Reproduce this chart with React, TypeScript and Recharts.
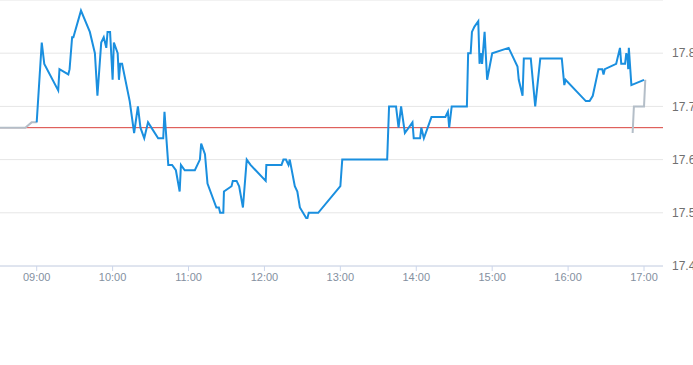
import { LineChart, Line, XAxis, YAxis, CartesianGrid, ReferenceLine } from "recharts";

// intraday price, times as HH:MM (HH:MM:SS where ticks are close together)
const mainTimes = [
  "09:00", "09:04", "09:06", "09:17", "09:18", "09:25", "09:26", "09:28", "09:29", "09:35",
  "09:42", "09:46", "09:48", "09:51", "09:53", "09:55", "09:56", "09:58", "10:00", "10:01",
  "10:04", "10:05", "10:06", "10:07:30", "10:13:30", "10:17", "10:20", "10:22", "10:25", "10:28",
  "10:36", "10:40", "10:41", "10:44", "10:47", "10:50", "10:53", "10:54", "10:57", "11:05",
  "11:09", "11:10", "11:13", "11:15", "11:22", "11:24", "11:25", "11:27:30", "11:28", "11:34",
  "11:35", "11:38", "11:40", "11:43", "11:46", "11:49", "12:01", "12:01:30", "12:13:30", "12:15",
  "12:17", "12:19", "12:20", "12:24", "12:26", "12:28", "12:33", "12:34", "12:35", "12:42:30",
  "13:00", "13:01:30", "13:37", "13:38:30", "13:44", "13:46", "13:48", "13:51", "13:57", "13:58",
  "14:03", "14:04", "14:06", "14:12", "14:23", "14:25", "14:26", "14:28", "14:40", "14:41",
  "14:43", "14:44", "14:46", "14:49", "14:50", "14:51", "14:52", "14:54", "14:56", "15:00",
  "15:13", "15:20", "15:21", "15:24", "15:25", "15:30:30", "15:34", "15:38", "15:55", "15:57",
  "15:58", "16:14", "16:17", "16:19:30", "16:24", "16:27", "16:28", "16:29", "16:38", "16:41",
  "16:42", "16:45", "16:46", "16:47", "16:47:30", "16:48", "16:50", "17:00",
];
const mainPrices = [
  17.67, 17.82, 17.78, 17.73, 17.77, 17.76, 17.77, 17.83, 17.83, 17.88,
  17.84, 17.80, 17.72, 17.82, 17.83, 17.81, 17.84, 17.84, 17.75, 17.82,
  17.80, 17.75, 17.78, 17.78, 17.71, 17.65, 17.70, 17.66, 17.64, 17.67,
  17.64, 17.64, 17.69, 17.59, 17.59, 17.58, 17.54, 17.59, 17.58, 17.58,
  17.60, 17.63, 17.61, 17.555, 17.51, 17.51, 17.50, 17.50, 17.54, 17.55,
  17.56, 17.56, 17.55, 17.51, 17.60, 17.59, 17.56, 17.59, 17.59, 17.60,
  17.60, 17.59, 17.60, 17.55, 17.54, 17.51, 17.49, 17.49, 17.50, 17.50,
  17.55, 17.60, 17.60, 17.70, 17.70, 17.66, 17.70, 17.65, 17.67, 17.64,
  17.64, 17.66, 17.64, 17.68, 17.68, 17.69, 17.66, 17.70, 17.70, 17.80,
  17.80, 17.84, 17.85, 17.86, 17.78, 17.80, 17.78, 17.84, 17.75, 17.80,
  17.81, 17.775, 17.75, 17.72, 17.79, 17.79, 17.70, 17.79, 17.79, 17.74,
  17.75, 17.71, 17.71, 17.72, 17.77, 17.77, 17.76, 17.77, 17.78, 17.81,
  17.78, 17.78, 17.80, 17.79, 17.77, 17.81, 17.74, 17.75,
];

// pre-market and after-hours pieces (grey)
const preTimes = ["08:31", "08:51", "08:56", "09:00"];
const prePrices = [17.66, 17.66, 17.67, 17.67];
const postTimes = ["16:51", "16:52", "17:00", "17:01"];
const postPrices = [17.65, 17.70, 17.70, 17.75];

const prevClose = 17.66;
const yTicks = [17.4, 17.5, 17.6, 17.7, 17.8];
const xTickLabels = ["09:00", "10:00", "11:00", "12:00", "13:00", "14:00", "15:00", "16:00", "17:00"];

const toMin = (s: string) => {
  const [h, m, sec] = s.split(":").map(Number);
  return h * 60 + m + (sec ?? 0) / 60;
};
const fmt = (v: number) => {
  const h = Math.floor(v / 60), m = Math.round(v % 60);
  return `${String(h).padStart(2, "0")}:${String(m).padStart(2, "0")}`;
};
const zip = (ts: string[], ps: number[]) => ts.map((t, i) => ({ t: toMin(t), price: ps[i] }));

const main = zip(mainTimes, mainPrices);
const pre = zip(preTimes, prePrices);
const post = zip(postTimes, postPrices);

export default function App() {
  const font = "'Liberation Sans', Arial, sans-serif";
  return (
    <div style={{ position: "absolute", left: 0, top: 0, fontFamily: font }}>
      <LineChart width={693} height={365} margin={{ top: 0, right: 0, left: 0, bottom: 69 }}>
        <CartesianGrid stroke="#e6e6e6" vertical={false} />
        <XAxis
          dataKey="t" type="number" domain={[toMin("08:31"), toMin("17:15")]}
          ticks={xTickLabels.map(toMin)} tickFormatter={fmt} height={30}
          tick={{ fill: "#84909f", fontSize: 11 }} stroke="#ccd6eb" tickSize={5}
        />
        <YAxis
          orientation="right" width={30} domain={[17.4, 17.9]} ticks={yTicks}
          tickFormatter={(v: number) => v.toFixed(1)} axisLine={false} tickLine={false}
          tick={{ fill: "#707070", fontSize: 12, dx: 1 }}
        />
        <ReferenceLine y={prevClose} stroke="#d9403a" strokeWidth={1} />
        <Line data={pre} dataKey="price" stroke="#b4bec8" strokeWidth={2} dot={false} activeDot={false} isAnimationActive={false} />
        <Line data={post} dataKey="price" stroke="#b4bec8" strokeWidth={2} dot={false} activeDot={false} isAnimationActive={false} />
        <Line data={main} dataKey="price" stroke="#1a8fdf" strokeWidth={2} dot={false} activeDot={false} isAnimationActive={false} />
      </LineChart>
    </div>
  );
}
